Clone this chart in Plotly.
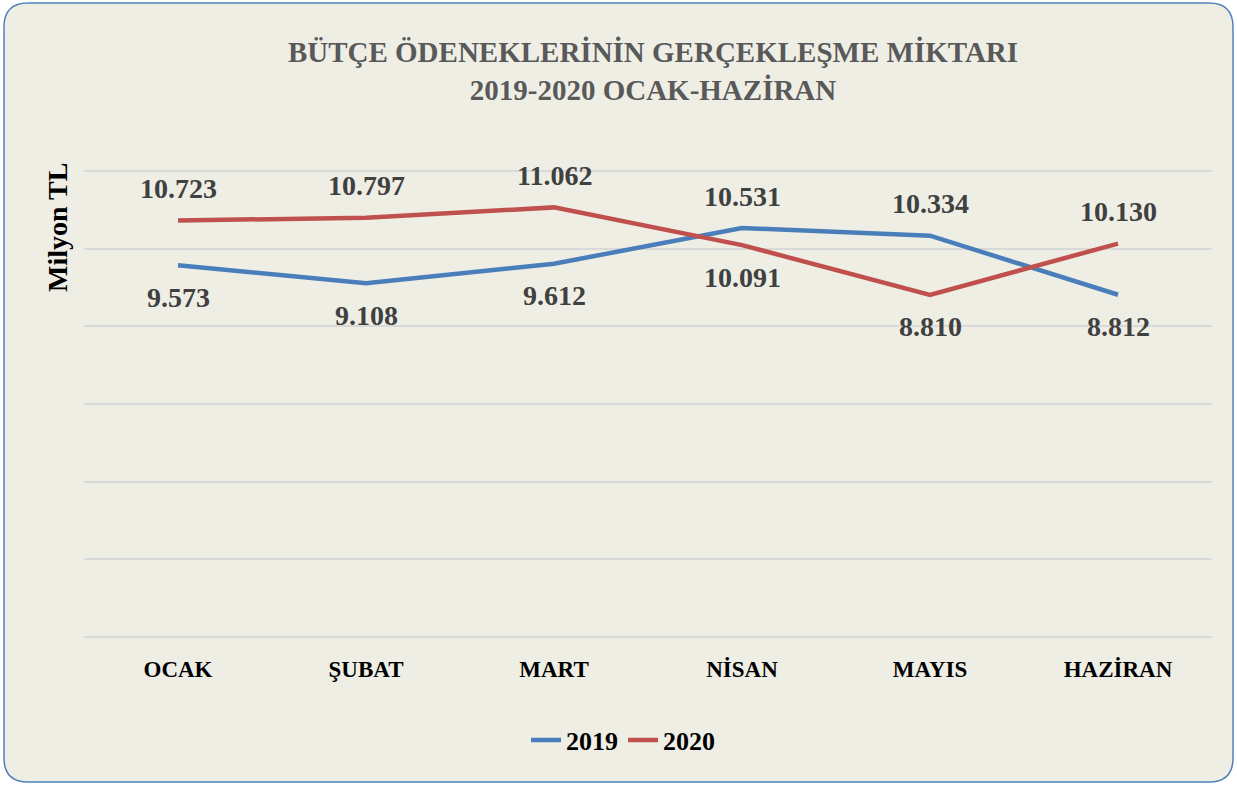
import plotly.graph_objects as go

# Data (Milyon TL)
months = ["OCAK", "ŞUBAT", "MART", "NİSAN", "MAYIS", "HAZİRAN"]
values_2019 = [9.573, 9.108, 9.612, 10.531, 10.334, 8.812]
values_2020 = [10.723, 10.797, 11.062, 10.091, 8.810, 10.130]

# label placement for each point: +1 above, -1 below
side_2019 = [-1, -1, -1, 1, 1, -1]
side_2020 = [1, 1, 1, -1, -1, 1]

W, H = 1237, 785
L, R, T, B = 84, 25, 169, 146
pw, ph = W - L - R, H - T - B

BLUE = "#4A7EBB"
RED = "#C0504D"
SERIF = "Liberation Serif, Times New Roman, serif"


def px_x(x):
    return (x - L) / pw


def px_y(y):
    return (H - B - y) / ph


fig = go.Figure()
fig.add_trace(go.Scatter(x=months, y=values_2019, mode="lines", name="<b>2019</b>",
                         line=dict(color=BLUE, width=4.5)))
fig.add_trace(go.Scatter(x=months, y=values_2020, mode="lines", name="<b>2020</b>",
                         line=dict(color=RED, width=4.5)))

# data labels
for vals, sides in [(values_2019, side_2019), (values_2020, side_2020)]:
    for m, v, s in zip(months, vals, sides):
        fig.add_annotation(x=m, y=v, text=f"<b>{v:.3f}</b>", showarrow=False,
                           yshift=32 * s,
                           font=dict(family=SERIF, size=28, color="#404040"))

# y axis title near the top of the plot
fig.add_annotation(xref="paper", yref="paper", x=px_x(57), y=px_y(228),
                   xanchor="center", yanchor="middle",
                   text="<b>Milyon TL</b>", textangle=-90, showarrow=False,
                   font=dict(family=SERIF, size=28, color="black"))

# rounded frame with beige fill
x0, x1, y0, y1, r = px_x(4), px_x(1233), px_y(3), px_y(782), 24
rx, ry = r / pw, r / ph
path = (f"M {x0 + rx},{y0} L {x1 - rx},{y0} Q {x1},{y0} {x1},{y0 - ry} "
        f"L {x1},{y1 + ry} Q {x1},{y1} {x1 - rx},{y1} "
        f"L {x0 + rx},{y1} Q {x0},{y1} {x0},{y1 + ry} "
        f"L {x0},{y0 - ry} Q {x0},{y0} {x0 + rx},{y0} Z")
fig.add_shape(type="path", path=path, xref="paper", yref="paper",
              fillcolor="#EFEEE5", line=dict(color="#4F81BD", width=1.5),
              layer="below")

fig.update_layout(
    width=W, height=H,
    margin=dict(l=L, r=R, t=T, b=B),
    paper_bgcolor="white",
    plot_bgcolor="rgba(0,0,0,0)",
    title=dict(text="<b>BÜTÇE ÖDENEKLERİNİN GERÇEKLEŞME MİKTARI<br>2019-2020 OCAK-HAZİRAN</b>",
               x=653 / W, xanchor="center", y=1 - 62 / H, yanchor="middle",
               font=dict(family=SERIF, size=29, color="#595959")),
    xaxis=dict(range=[-0.5, 5.5], showgrid=False, zeroline=False, showline=False,
               ticks="", ticklabelstandoff=14,
               tickvals=months, ticktext=[f"<b>{m}</b>" for m in months],
               tickfont=dict(family=SERIF, size=23, color="black")),
    yaxis=dict(range=[-0.05, 12.05], tickvals=[0, 2, 4, 6, 8, 10, 12],
               showticklabels=False,
               gridcolor="#D9D9D9", gridwidth=1.5, zeroline=False, showline=False),
    showlegend=True,
    legend=dict(orientation="h", x=px_x(623), xanchor="center",
                y=px_y(740), yanchor="middle", bgcolor="rgba(0,0,0,0)",
                font=dict(family=SERIF, size=26, color="black")),
)

fig.write_html("out.html", config={"displayModeBar": False},
               post_script="document.body.style.margin='0';")
